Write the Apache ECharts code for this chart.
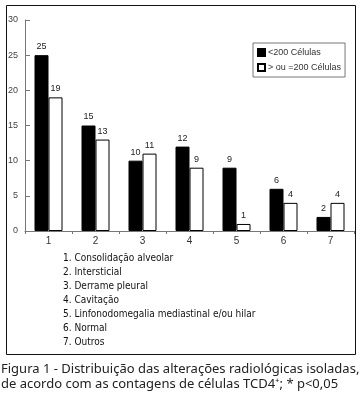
<!DOCTYPE html>
<html><head><meta charset="utf-8">
<script src="https://cdn.jsdelivr.net/npm/echarts@6/dist/echarts.min.js"></script>
<style>html,body{margin:0;padding:0;background:#fff}#c{width:364px;height:407px}</style>
</head><body><div id="c"></div>
<script>
const categories = ['1','2','3','4','5','6','7'];
const seriesLow = [25,15,10,12,9,6,2];
const seriesHigh = [19,13,11,9,1,4,4];
const seriesNames = ['<200 Células', '> ou =200 Células'];
const yTicks = {min:0, max:30, interval:5};
const listLines = [
  '1. Consolidação alveolar',
  '2. Intersticial',
  '3. Derrame pleural',
  '4. Cavitação',
  '5. Linfonodomegalia mediastinal e/ou hilar',
  '6. Normal',
  '7. Outros'
];
const captionLines = [
  'Figura 1 - Distribuição das alterações radiológicas isoladas,',
  'de acordo com as contagens de células TCD4⁺; * p<0,05'
];

const SANS = '"Liberation Sans", Arial, sans-serif';
const chart = echarts.init(document.getElementById('c'), null, {renderer:'canvas'});
const listGraphics = listLines.map((t,i)=>({
  type:'text', left:63, top:253 + i*14.1,
  style:{text:t, fontSize:10, fontFamily:'"DejaVu Sans Condensed", "Noto Sans", sans-serif', fill:'#111'}
}));
const capGraphics = captionLines.map((t,i)=>({
  type:'text', left:1, top:363 + i*14.5,
  style:{text:t, fontSize:13, fontFamily:'"Noto Sans", sans-serif', fill:'#222'}
}));
chart.setOption({
  animation:false,
  grid:{left:25, top:20, width:329, height:211, containLabel:false},
  legend:{
    orient:'vertical', left:253, top:43, itemWidth:7, itemHeight:7, itemGap:6,
    padding:[5,4,5,4], borderColor:'#777', borderWidth:1,
    textStyle:{fontSize:9, fontFamily:SANS, color:'#333', padding:[0,0,0,-2]},
    data:seriesNames.map(n=>({name:n, icon:'rect'}))
  },
  xAxis:{
    type:'category', data:categories,
    axisLine:{lineStyle:{color:'#777'}},
    axisTick:{show:true, length:3, lineStyle:{color:'#777'}},
    axisLabel:{color:'#333', fontSize:10, margin:5, fontFamily:SANS}
  },
  yAxis:{
    type:'value', min:yTicks.min, max:yTicks.max, interval:yTicks.interval,
    splitLine:{show:false},
    axisLine:{show:true, lineStyle:{color:'#777'}},
    axisTick:{show:true, inside:true, length:5, lineStyle:{color:'#777'}},
    axisLabel:{color:'#444', fontSize:9, margin:7, fontFamily:SANS}
  },
  series:[
    {name:seriesNames[0], type:'bar', data:seriesLow, barWidth:14, barGap:'0%',
     itemStyle:{color:'#000', borderColor:'#000', borderWidth:1},
     label:{show:true, position:'top', distance:4, fontSize:9, color:'#222', fontFamily:SANS}},
    {name:seriesNames[1], type:'bar', data:seriesHigh, barWidth:14,
     itemStyle:{color:'#fff', borderColor:'#000', borderWidth:1},
     label:{show:true, position:'top', distance:4, fontSize:9, color:'#222', fontFamily:SANS}}
  ],
  graphic:[
    {type:'rect', shape:{x:6.5, y:5.5, width:349, height:349}, style:{fill:'none', stroke:'#111', lineWidth:1}, silent:true, z:-1},
    ...listGraphics, ...capGraphics
  ]
});
</script></body></html>
